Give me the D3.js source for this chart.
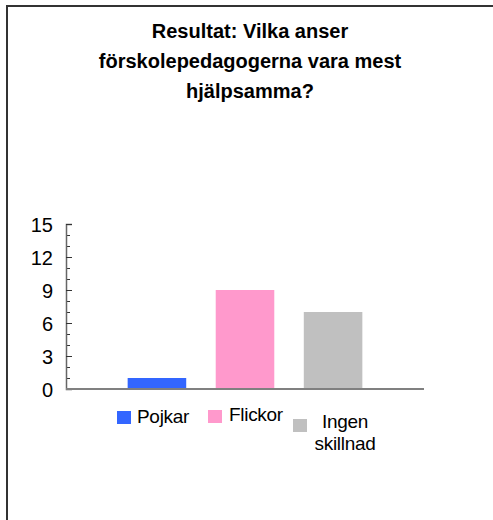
<!DOCTYPE html>
<html>
<head>
<meta charset="utf-8">
<script src="https://cdn.jsdelivr.net/npm/d3@7"></script>
<style>
  body { margin: 0; background: #fff; }
  text { font-family: "Liberation Sans", Arial, sans-serif; fill: #000; }
</style>
</head>
<body>
<div id="chart"></div>
<script>
// data
var categories = ['Pojkar', 'Flickor', 'Ingen skillnad'];
var values = [1, 9, 7];
var colors = ['#3366FF', '#FF99CC', '#C0C0C0'];
var yTicks = [0, 3, 6, 9, 12, 15];
var titleLines = ['Resultat: Vilka anser', 'förskolepedagogerna vara mest', 'hjälpsamma?'];

var width = 493, height = 520;
var plot = {left: 66, right: 424, top: 224, bottom: 389};

var svg = d3.select('#chart')
  .append('svg')
  .attr('width', width)
  .attr('height', height);

// frame (only top + left visible)
svg.append('path')
  .attr('d', 'M7,' + height + 'V6H' + width)
  .attr('fill', 'none')
  .attr('stroke', '#333')
  .attr('stroke-width', 2);

// title
svg.append('g')
  .selectAll('text')
  .data(titleLines)
  .enter()
  .append('text')
  .attr('x', 250)
  .attr('y', function (d, i) { return 38 + i * 30; })
  .attr('text-anchor', 'middle')
  .style('font-size', '20px')
  .style('font-weight', 'bold')
  .text(function (d) { return d; });

var xScale = d3.scaleBand()
  .domain(categories)
  .range([plot.left, plot.right])
  .paddingInner(0.335)
  .paddingOuter(0.7);

var yScale = d3.scaleLinear()
  .domain([0, 15])
  .range([plot.bottom, plot.top]);

// bars
svg.selectAll('.bar')
  .data(values)
  .enter()
  .append('rect')
  .attr('class', 'bar')
  .attr('x', function (d, i) { return xScale(categories[i]); })
  .attr('width', xScale.bandwidth())
  .attr('y', function (d) { return yScale(d); })
  .attr('height', function (d) { return yScale(0) - yScale(d); })
  .attr('fill', function (d, i) { return colors[i]; });

// minor ticks (every unit)
var yAxisMinor = svg.append('g')
  .attr('transform', 'translate(' + plot.left + ',0)')
  .call(d3.axisRight(yScale).tickValues(d3.range(0, 16)).tickSize(4).tickFormat(''));

// major ticks + labels
var yAxis = svg.append('g')
  .attr('transform', 'translate(' + plot.left + ',0)')
  .call(d3.axisRight(yScale).tickValues(yTicks).tickSize(6).tickFormat(d3.format('d')));

yAxisMinor.select('.domain').remove();
yAxis.select('.domain').attr('stroke', '#666').attr('stroke-width', 1.5);
yAxis.selectAll('.tick line').attr('stroke', '#333');
yAxisMinor.selectAll('.tick line').attr('stroke', '#333');
yAxis.selectAll('.tick text')
  .attr('x', -13)
  .attr('text-anchor', 'end')
  .attr('fill', '#000')
  .style('font-family', '"Liberation Sans", Arial, sans-serif')
  .style('font-size', '20px')
  .attr('dy', '0.35em');

// x axis line
svg.append('g')
  .attr('transform', 'translate(0,' + plot.bottom + ')')
  .call(d3.axisBottom(xScale).tickSize(0).tickFormat(''))
  .call(function (g) {
    g.select('.domain')
      .attr('d', 'M' + plot.left + ',0H' + plot.right)
      .attr('stroke', '#808080')
      .attr('stroke-width', 2);
  });

// legend
var legendPos = [
  {x: 117, y: 411, tx: 137, lines: [423]},
  {x: 208, y: 410, tx: 229, lines: [421]},
  {x: 293, y: 419, tx: 345, lines: [428, 450]}
];
var legendLabels = [['Pojkar'], ['Flickor'], ['Ingen', 'skillnad']];

var legend = svg.append('g')
  .selectAll('g')
  .data(categories)
  .enter()
  .append('g');

legend.append('rect')
  .attr('x', function (d, i) { return legendPos[i].x; })
  .attr('y', function (d, i) { return legendPos[i].y; })
  .attr('width', 14)
  .attr('height', 13)
  .attr('fill', function (d, i) { return colors[i]; });

legend.each(function (d, i) {
  var p = legendPos[i];
  var t = d3.select(this).append('text')
    .style('font-size', '19px')
    .style('letter-spacing', '-0.3px')
    .attr('text-anchor', legendLabels[i].length > 1 ? 'middle' : 'start');
  legendLabels[i].forEach(function (s, j) {
    t.append('tspan')
      .attr('x', p.tx)
      .attr('y', p.lines[j])
      .text(s);
  });
});
</script>
</body>
</html>
